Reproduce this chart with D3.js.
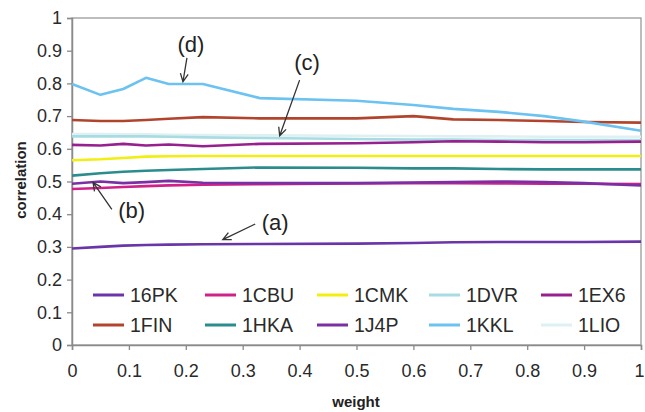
<!DOCTYPE html>
<html><head><meta charset="utf-8">
<script src="https://cdn.jsdelivr.net/npm/d3@7"></script>
<style>body{margin:0;background:#fff}svg{display:block}</style>
</head><body><svg id="c" width="645" height="412"></svg>
<script>
const weights = [0, 0.05, 0.09, 0.13, 0.17, 0.23, 0.33, 0.5, 0.6, 0.67, 0.75, 0.83, 0.9, 1];
const seriesNames = ["16PK","1CBU","1CMK","1DVR","1EX6","1FIN","1HKA","1J4P","1KKL","1LIO"];
const seriesColors = ["#6a35a8","#d2208a","#f2ee10","#a6dce2","#97208f","#b2442e","#2a8c8c","#7a2fa3","#6cc2f0","#dff0f2"];
const v16PK = [0.295,0.300,0.304,0.306,0.307,0.308,0.309,0.310,0.312,0.314,0.315,0.315,0.315,0.316];
const v1CBU = [0.477,0.480,0.483,0.486,0.488,0.490,0.492,0.494,0.495,0.495,0.494,0.493,0.493,0.492];
const v1CMK = [0.565,0.568,0.572,0.576,0.577,0.578,0.578,0.578,0.578,0.578,0.578,0.578,0.578,0.578];
const v1DVR = [0.638,0.638,0.638,0.638,0.637,0.635,0.633,0.630,0.628,0.628,0.627,0.627,0.627,0.627];
const v1EX6 = [0.612,0.610,0.615,0.610,0.613,0.608,0.615,0.617,0.620,0.623,0.622,0.620,0.620,0.622];
const v1FIN = [0.688,0.685,0.685,0.688,0.692,0.697,0.693,0.693,0.700,0.690,0.688,0.685,0.682,0.680];
const v1HKA = [0.518,0.525,0.530,0.533,0.535,0.538,0.543,0.542,0.540,0.540,0.538,0.537,0.537,0.537];
const v1J4P = [0.493,0.500,0.495,0.498,0.502,0.496,0.495,0.495,0.497,0.498,0.500,0.498,0.495,0.488];
const v1KKL = [0.798,0.765,0.783,0.817,0.798,0.798,0.755,0.747,0.734,0.722,0.713,0.700,0.683,0.655];
const v1LIO = [0.645,0.645,0.644,0.644,0.643,0.642,0.641,0.640,0.639,0.638,0.638,0.637,0.637,0.637];
const seriesValues = [v16PK,v1CBU,v1CMK,v1DVR,v1EX6,v1FIN,v1HKA,v1J4P,v1KKL,v1LIO];
const xTicks = [0,0.1,0.2,0.3,0.4,0.5,0.6,0.7,0.8,0.9,1];
const yTicks = [0,0.1,0.2,0.3,0.4,0.5,0.6,0.7,0.8,0.9,1];
// annotation labels: [text, weight of text, value of text]
const annotations = [
  ["(d)", 0.209, 0.915],
  ["(c)", 0.413, 0.858],
  ["(b)", 0.105, 0.405],
  ["(a)", 0.357, 0.370]
];

const svg = d3.select("#c");
const font = "'Liberation Sans', Arial, sans-serif";
const x = d3.scaleLinear().domain([0,1]).range([72,641]);
const y = d3.scaleLinear().domain([0,1]).range([345,18]);

svg.append("rect").attr("x",72).attr("y",18).attr("width",569).attr("height",327)
  .attr("fill","none").attr("stroke","#9a9a9a").attr("stroke-width",1.3);

const xa = svg.append("g").attr("transform","translate(0,345)")
  .call(d3.axisBottom(x).tickValues(xTicks).tickFormat(d=>d3.format("")(d)).tickSize(5).tickPadding(14));
const ya = svg.append("g").attr("transform","translate(72,0)")
  .call(d3.axisLeft(y).tickValues(yTicks).tickFormat(d=>d3.format("")(d)).tickSize(5).tickPadding(5));
[xa,ya].forEach(a=>{
  a.selectAll("path").attr("stroke","#8a8a8a").attr("stroke-width",1.5);
  a.selectAll("line").attr("stroke","#8a8a8a").attr("stroke-width",1.3);
  a.selectAll("text").attr("font-family",font).attr("font-size",18).attr("fill","#2a2a2a");
});
xa.selectAll(".tick").filter(d=>d===1).select("text").attr("text-anchor","end").attr("dx",3);

const line = d3.line().x((d,i)=>x(weights[i])).y(d=>y(d));
const order = [9,3,0,1,7,6,2,4,5,8];
order.forEach(k=>{
  svg.append("path").datum(seriesValues[k]).attr("d",line)
    .attr("fill","none").attr("stroke",seriesColors[k]).attr("stroke-width",2.6)
    .attr("stroke-linejoin","round");
});

const leg = svg.append("g");
seriesNames.forEach((n,i)=>{
  const col = i%5, row = Math.floor(i/5);
  const lx = 93 + col*112, ly = 295 + row*30;
  leg.append("line").attr("x1",lx).attr("x2",lx+31).attr("y1",ly).attr("y2",ly)
    .attr("stroke",seriesColors[i]).attr("stroke-width",3);
  leg.append("text").attr("x",lx+37).attr("y",ly+7).text(n)
    .attr("font-family",font).attr("font-size",19.5).attr("fill","#2a2a2a");
});

annotations.forEach(a=>{
  svg.append("text").attr("x",x(a[1])).attr("y",y(a[2])).attr("text-anchor","middle")
    .attr("dominant-baseline","middle").text(a[0])
    .attr("font-family",font).attr("font-size",22).attr("fill","#222");
});
function arrow(x0,y0,x1,y1){
  const ang = Math.atan2(y1-y0,x1-x0), L=9, s=0.45;
  svg.append("path").attr("d",`M${x0},${y0}L${x1},${y1}`+
    `M${x1-L*Math.cos(ang-s)},${y1-L*Math.sin(ang-s)}L${x1},${y1}L${x1-L*Math.cos(ang+s)},${y1-L*Math.sin(ang+s)}`)
    .attr("fill","none").attr("stroke","#333").attr("stroke-width",1.3);
}
arrow(x(0.202), y(0.878), x(0.195), y(0.805));
arrow(x(0.4), y(0.81), x(0.365), y(0.64));
arrow(x(0.07), y(0.415), x(0.037), y(0.497));
arrow(x(0.322), y(0.37), x(0.265), y(0.322));

svg.append("text").attr("x",356).attr("y",407).attr("text-anchor","middle").text("weight")
  .attr("font-family",font).attr("font-size",15).attr("font-weight","bold").attr("fill","#222");
svg.append("text").attr("transform","translate(26,180) rotate(-90)").attr("text-anchor","middle").text("correlation")
  .attr("font-family",font).attr("font-size",15).attr("font-weight","bold").attr("fill","#222");
</script></body></html>
